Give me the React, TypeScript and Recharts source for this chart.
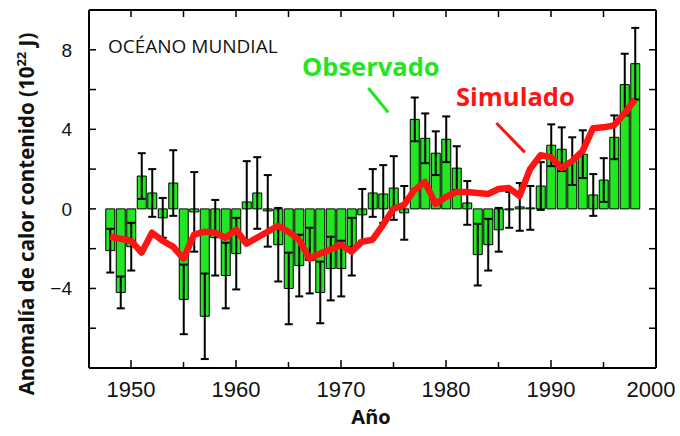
import { ComposedChart, Bar, Line, XAxis, YAxis, ErrorBar, ReferenceLine } from "recharts"

const years = [
  1948, 1949, 1950, 1951, 1952, 1953, 1954, 1955, 1956, 1957,
  1958, 1959, 1960, 1961, 1962, 1963, 1964, 1965, 1966, 1967,
  1968, 1969, 1970, 1971, 1972, 1973, 1974, 1975, 1976, 1977,
  1978, 1979, 1980, 1981, 1982, 1983, 1984, 1985, 1986, 1987,
  1988, 1989, 1990, 1991, 1992, 1993, 1994, 1995, 1996, 1997, 1998,
]

// observed anomaly (10^22 J)
const observed = [
  -2.1, -4.2, -1.9, 1.65, 0.8, -0.45, 1.3, -4.55, -0.15, -5.4,
  -1.45, -3.35, -2.25, 0.35, 0.8, -0.1, -1.8, -4.0, -2.85, -2.6,
  -4.2, -3.0, -3.0, -1.9, -0.3, 0.8, 0.75, 1.05, -0.2, 4.5,
  3.55, 2.8, 3.5, 2.05, 0.3, -2.3, -1.8, -1.05, -0.05, 0.1,
  0.05, 1.15, 3.2, 3.0, 2.4, 2.75, 0.7, 1.45, 3.6, 6.25, 7.3,
]

// half-width of the error bars
const uncertainty = [
  1.1, 0.8, 1.2, 1.15, 1.2, 1.0, 1.65, 1.75, 2.0, 2.15,
  1.9, 1.65, 1.8, 2.05, 1.8, 1.8, 1.85, 1.8, 1.55, 1.65,
  1.55, 1.6, 1.4, 1.45, 1.3, 1.2, 1.45, 1.6, 1.35, 1.1,
  1.25, 1.1, 1.15, 1.1, 1.1, 1.55, 1.3, 1.1, 0.9, 1.2,
  1.1, 1.2, 1.05, 1.1, 1.2, 1.2, 1.05, 1.1, 1.1, 1.55, 1.8,
]

// simulated anomaly
const simulated = [
  -1.4, -1.5, -1.6, -2.2, -1.2, -1.6, -1.9, -2.5, -1.3, -1.15,
  -1.2, -1.45, -1.05, -1.75, -1.45, -1.15, -0.85, -1.15, -1.55, -2.5,
  -2.25, -2.05, -1.8, -2.15, -1.65, -1.55, -0.8, 0.0, 0.2, 0.95,
  1.35, 0.25, 0.6, 0.85, 0.85, 0.8, 0.75, 1.0, 1.05, 0.65,
  2.0, 2.7, 2.6, 2.05, 2.4, 2.9, 4.05, 4.1, 4.2, 4.8, 5.5,
]

const xTicks = [1950, 1955, 1960, 1965, 1970, 1975, 1980, 1985, 1990, 1995, 2000]
const yTicks = [-6, -4, -2, 0, 2, 4, 6, 8]

const data = years.map((year, i) => ({
  year,
  obs: observed[i],
  err: uncertainty[i],
  sim: simulated[i],
}))

const GREEN = "#22e622"
const RED = "#ff1414"
const tickFont = "'Liberation Sans', Arial, sans-serif"
const labelFont = "'Open Sans', sans-serif"

function BottomTick({ x, y, payload }: any) {
  const v = payload.value
  const major = v % 10 === 0
  // last label sits against the right border, nudge it in so it isn't clipped
  const tx = v === 2000 ? x - 5 : x
  return (
    <g>
      {v < 2000 && <line x1={x} x2={x} y1={y} y2={y - (major ? 8 : 6)} stroke="#000" strokeWidth={1.5} />}
      {major && (
        <text x={tx} y={y + 29} textAnchor="middle" fontSize={22} fontFamily={tickFont} fill="#111">
          {v}
        </text>
      )}
    </g>
  )
}

function TopTick({ x, y, payload }: any) {
  if (payload.value >= 2000) return <g />
  return <line x1={x} x2={x} y1={y} y2={y + 7} stroke="#000" strokeWidth={1.5} />
}

function LeftTick({ x, y, payload }: any) {
  const v = payload.value
  return (
    <g>
      <line x1={x} x2={x + 7} y1={y} y2={y} stroke="#000" strokeWidth={1.5} />
      {v % 4 === 0 && (
        <text x={x - 17} y={y + 7} textAnchor="end" fontSize={19} fontFamily={tickFont} fill="#111">
          {v < 0 ? `\u2212${-v}` : v}
        </text>
      )}
    </g>
  )
}

function RightTick({ x, y }: any) {
  return <line x1={x} x2={x - 7} y1={y} y2={y} stroke="#000" strokeWidth={1.5} />
}

export default function App() {
  return (
    <div style={{ position: "absolute", left: 0, top: 0, width: 680, height: 436, background: "#fff" }}>
      <ComposedChart width={680} height={436} data={data} margin={{ top: 0, right: 0, bottom: 0, left: 0 }}>
        <XAxis
          dataKey="year"
          type="number"
          domain={[1946, 2000]}
          ticks={xTicks}
          allowDataOverflow
          height={68}
          tickSize={0}
          tickMargin={0}
          tick={<BottomTick />}
          axisLine={{ stroke: "#000", strokeWidth: 2 }}
          tickLine={false}
          interval={0}
        />
        <XAxis
          xAxisId="top"
          orientation="top"
          dataKey="year"
          type="number"
          domain={[1946, 2000]}
          ticks={xTicks}
          allowDataOverflow
          height={10}
          tickSize={0}
          tickMargin={0}
          tick={<TopTick />}
          axisLine={{ stroke: "#000", strokeWidth: 2 }}
          tickLine={false}
          interval={0}
        />
        <YAxis
          type="number"
          domain={[-8, 10]}
          ticks={yTicks}
          allowDataOverflow
          width={89}
          tickSize={0}
          tickMargin={0}
          tick={<LeftTick />}
          axisLine={{ stroke: "#000", strokeWidth: 2 }}
          tickLine={false}
          interval={0}
        />
        <YAxis
          yAxisId="right"
          orientation="right"
          type="number"
          domain={[-8, 10]}
          ticks={yTicks}
          allowDataOverflow
          width={24}
          tickSize={0}
          tickMargin={0}
          tick={<RightTick />}
          axisLine={{ stroke: "#000", strokeWidth: 2 }}
          tickLine={false}
          interval={0}
        />
        <Bar dataKey="obs" barSize={9} fill={GREEN} stroke="#000" strokeWidth={1} isAnimationActive={false}>
          <ErrorBar dataKey="err" width={4} stroke="#000" strokeWidth={2} />
        </Bar>
        <Line
          dataKey="sim"
          type="linear"
          stroke={RED}
          strokeWidth={6.5}
          strokeLinejoin="round"
          dot={false}
          isAnimationActive={false}
        />
        <ReferenceLine
          segment={[{ x: 1972.6, y: 6.08 }, { x: 1974.5, y: 4.85 }]}
          stroke={GREEN}
          strokeWidth={3}
          ifOverflow="visible"
        />
        <ReferenceLine
          segment={[{ x: 1984.8, y: 4.32 }, { x: 1987.5, y: 2.84 }]}
          stroke={RED}
          strokeWidth={3}
          ifOverflow="visible"
        />
      </ComposedChart>
      <svg width={680} height={436} style={{ position: "absolute", left: 0, top: 0, pointerEvents: "none" }}>
        <text x={108} y={53} fontSize={19} fontFamily={labelFont} fill="#111">
          OCÉANO MUNDIAL
        </text>
        <text x={302} y={76} fontSize={25.5} fontWeight="bold" fontFamily={labelFont} fill={GREEN}>
          Observado
        </text>
        <text x={456} y={106} fontSize={25.5} fontWeight="bold" fontFamily={labelFont} fill={RED}>
          Simulado
        </text>
        <text x={371} y={424} textAnchor="middle" fontSize={20} fontWeight="bold" fontFamily={labelFont} fill="#111">
          Año
        </text>
        <text
          transform="translate(34,214) rotate(-90)"
          textAnchor="middle"
          fontSize={20.5}
          fontWeight="bold"
          fontFamily={labelFont}
          fill="#111"
        >
          Anomalía de calor contenido (10
          <tspan fontSize={13} dy={-8}>22</tspan>
          <tspan dy={8}> J)</tspan>
        </text>
      </svg>
    </div>
  )
}
